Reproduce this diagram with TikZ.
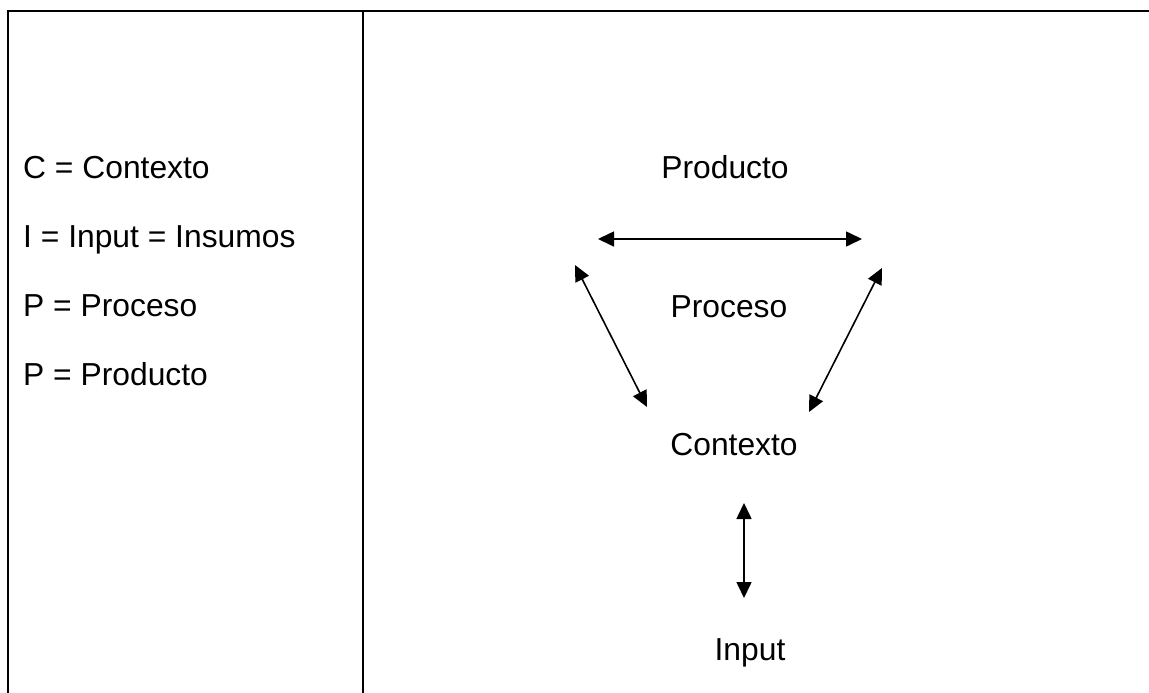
\documentclass[tikz,border=0pt]{standalone}
\usepackage{fontspec}
\setmainfont{Liberation Sans}
\usetikzlibrary{arrows.meta}
\begin{document}
\begin{tikzpicture}[x=1pt,y=-1pt,
  frame/.style={line width=2.5pt,line cap=rect},
  lbl/.style={inner sep=0pt,font=\fontsize{31.8}{38}\selectfont},
  dbl/.style={line width=1.6pt,{Triangle[length=16pt,width=15pt]}-{Triangle[length=16pt,width=15pt]}}]
\useasboundingbox (0,0) rectangle (1149,693);
% frame
\draw[frame] (8,693) -- (8,11) -- (1149,11);
\draw[frame] (363,11) -- (363,693);
% legend
\node[lbl,anchor=base west] (lc) at (23,178) {C = Contexto};
\node[lbl,anchor=base west] (li) at (23,247) {I = Input = Insumos};
\node[lbl,anchor=base west] (lp1) at (23,316) {P = Proceso};
\node[lbl,anchor=base west] (lp2) at (23,385) {P = Producto};
% diagram labels
\node[lbl,anchor=base] (prod) at (725,178) {Producto};
\node[lbl,anchor=base] (proc) at (729,317) {Proceso};
\node[lbl,anchor=base] (cont) at (734,455) {Contexto};
\node[lbl,anchor=base] (inp) at (750,660) {Input};
% arrow end points
\coordinate (h1) at (598,239);
\coordinate (h2) at (862,239);
\coordinate (l1) at (575,265);
\coordinate (l2) at (647,407);
\coordinate (r1) at (882,268);
\coordinate (r2) at (809,412);
\coordinate (v1) at (744,503);
\coordinate (v2) at (744,598);
\draw[dbl] (h1) -- (h2);
\draw[dbl] (l1) -- (l2);
\draw[dbl] (r1) -- (r2);
\draw[dbl] (v1) -- (v2);
\end{tikzpicture}
\end{document}
